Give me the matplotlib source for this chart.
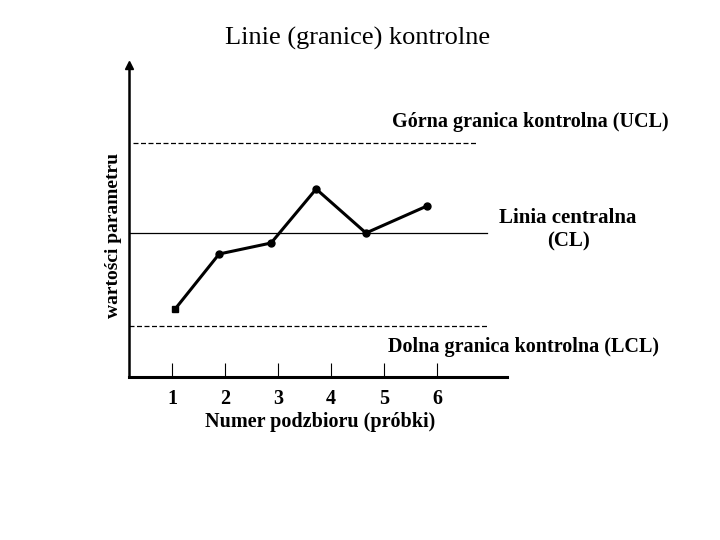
import matplotlib
matplotlib.use("Agg")
from matplotlib import pyplot as plt

plt.rcParams["font.family"] = ["Liberation Serif", "DejaVu Serif"]

tick_pos = [1, 2, 3, 4, 5, 6]
tick_labels = ["1", "2", "3", "4", "5", "6"]
sample_x = [1.06, 1.89, 2.87, 3.72, 4.66, 5.81]
sample_y = [6.8, 12.3, 13.4, 18.8, 14.4, 17.1]

# control limits
ucl = 23.4
cl = 14.4
lcl = 5.1
ucl_span = (0.26, 6.77)
cl_span = (0.19, 6.94)
lcl_span = (0.19, 6.96)

fig = plt.figure(figsize=(7.2, 5.4), dpi=100)
ax = fig.add_axes([129 / 720, 1 - 377 / 540, (507 - 129) / 720, (377 - 65) / 540])
ax.set_xlim(0.19, 7.32)
ax.set_ylim(0, 31.2)

# control lines
ax.plot(ucl_span, [ucl, ucl], color="black", lw=0.9, dashes=(4, 2))
ax.plot(cl_span, [cl, cl], color="black", lw=0.9)
ax.plot(lcl_span, [lcl, lcl], color="black", lw=0.9, dashes=(4, 2))

# sample series
ax.plot(sample_x, sample_y, color="black", lw=2.2)
ax.plot(sample_x[:1], sample_y[:1], "s", color="black", ms=5)
ax.plot(sample_x[1:], sample_y[1:], "o", color="black", ms=5)

# axes look
for side in ["top", "right"]:
    ax.spines[side].set_visible(False)
ax.spines["left"].set_linewidth(1.8)
ax.spines["bottom"].set_linewidth(2.2)
ax.plot(0, 1, "^", color="black", ms=6, transform=ax.transAxes, clip_on=False)

ax.set_xticks(tick_pos)
ax.set_xticklabels(tick_labels, fontweight="bold", fontsize=14.5)
ax.tick_params(axis="x", direction="in", length=10, width=0.8, pad=9)
ax.set_yticks([])

# texts
fig.text(358 / 720, 1 - 38 / 540, "Linie (granice) kontrolne", ha="center", va="center", fontsize=19)
fig.text(530 / 720, 1 - 122 / 540, "Górna granica kontrolna (UCL)", ha="center", va="center",
         fontsize=14.5, fontweight="bold")
fig.text(568 / 720, 1 - 230 / 540, "Linia centralna\n(CL)", ha="center", va="center",
         fontsize=15, fontweight="bold", linespacing=1.25)
fig.text(524 / 720, 1 - 347 / 540, "Dolna granica kontrolna (LCL)", ha="center", va="center",
         fontsize=14.5, fontweight="bold")
fig.text(320 / 720, 1 - 422 / 540, "Numer podzbioru (próbki)", ha="center", va="center",
         fontsize=14.5, fontweight="bold")
fig.text(113 / 720, 1 - 235 / 540, "wartości parametru", ha="center", va="center",
         rotation=90, fontsize=14, fontweight="bold")

fig.savefig("out.png", dpi=100)
